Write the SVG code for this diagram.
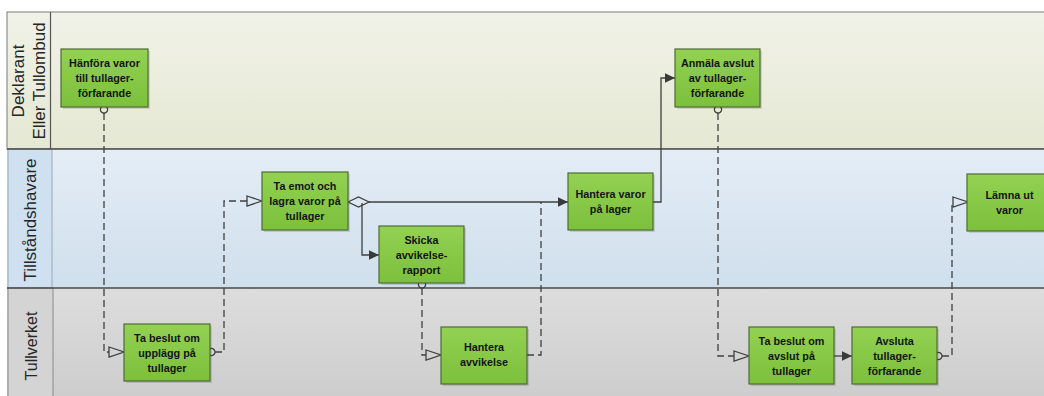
<svg xmlns="http://www.w3.org/2000/svg" width="1044" height="396" viewBox="0 0 1044 396">
<style>
.lane-label{font-family:"Liberation Sans",Arial,sans-serif;font-size:17px;fill:#262626;text-anchor:middle}
.box{fill:url(#gGreen);stroke:#4f6b32;stroke-width:1.2}
.shadow{fill:#000;opacity:.12}
.t{font-family:"Liberation Sans",Arial,sans-serif;font-size:10.8px;font-weight:bold;fill:#141414;text-anchor:middle}
.c{fill:none;stroke:#404040;stroke-width:1.3}
.d{stroke-dasharray:7 4}
.m{stroke:#404040;stroke-width:1.3;stroke-dasharray:none}
</style>
<defs>
<linearGradient id="gTop" x1="0" y1="0" x2="0" y2="1"><stop offset="0" stop-color="#f1f2e8"/><stop offset="1" stop-color="#e5e8d3"/></linearGradient>
<linearGradient id="gMid" x1="0" y1="0" x2="0" y2="1"><stop offset="0" stop-color="#e4edf6"/><stop offset="1" stop-color="#cfdfec"/></linearGradient>
<linearGradient id="gBot" x1="0" y1="0" x2="0" y2="1"><stop offset="0" stop-color="#dddddd"/><stop offset="1" stop-color="#cdcdcd"/></linearGradient>
<linearGradient id="gGreen" x1="0" y1="0" x2="0" y2="1"><stop offset="0" stop-color="#93d152"/><stop offset="1" stop-color="#7cc03c"/></linearGradient>
<marker id="open" markerUnits="userSpaceOnUse" markerWidth="18" markerHeight="14" viewBox="-2 -7 18 14" refX="0" refY="0" orient="auto" overflow="visible"><path class="m" d="M0,-5 L15,0 L0,5 Z" fill="none"/></marker>
<marker id="fill" markerUnits="userSpaceOnUse" markerWidth="12" markerHeight="12" viewBox="0 -6 12 12" refX="10" refY="0" orient="auto" overflow="visible"><path d="M0,-4.8 L10,0 L0,4.8 Z" fill="#3a3a3a"/></marker>
<marker id="circ" markerUnits="userSpaceOnUse" markerWidth="10" markerHeight="10" viewBox="-9 -5 10 10" refX="0" refY="0" orient="auto" overflow="visible"><circle class="m" cx="-3.6" r="3.6" fill="none"/></marker>
<marker id="dia" markerUnits="userSpaceOnUse" markerWidth="24" markerHeight="12" viewBox="-23 -6 24 12" refX="0" refY="0" orient="auto" overflow="visible"><path class="m" d="M-21,0 L-10.5,-5 L0,0 L-10.5,5 Z" fill="none"/></marker>
</defs>
<rect width="1044" height="396" fill="#ffffff"/>
<g id="lanes">
<g id="lane-deklarant">
<rect x="7" y="12" width="1040" height="137" fill="url(#gTop)" stroke="#7a7a7a" stroke-width="1"/>
<line x1="50.5" y1="12" x2="50.5" y2="149" stroke="#555" stroke-width="1.2"/>
<text class="lane-label" transform="translate(24,81) rotate(-90)">Deklarant</text>
<text class="lane-label" transform="translate(45,81) rotate(-90)">Eller Tullombud</text>
</g>
<g id="lane-tillstandshavare">
<rect x="7" y="149" width="1040" height="139" fill="url(#gMid)"/>
<rect x="8" y="149" width="44" height="139" fill="#cfe1f0" stroke="#9aa8b4" stroke-width="1"/>
<line x1="7" y1="149" x2="1044" y2="149" stroke="#4a4a4a" stroke-width="1.3"/>
<text class="lane-label" transform="translate(36,220) rotate(-90)">Tillståndshavare</text>
</g>
<g id="lane-tullverket">
<rect x="7" y="288" width="1040" height="110" fill="url(#gBot)"/>
<rect x="8" y="288" width="45" height="110" fill="#d4d4d4" stroke="#8a8a8a" stroke-width="1"/>
<line x1="7" y1="288" x2="1044" y2="288" stroke="#4a4a4a" stroke-width="1.3"/>
<text class="lane-label" style="font-size:16px" transform="translate(37,346) rotate(-90)">Tullverket</text>
</g>
</g>
<g id="connectors">
<path class="c d" d="M104,113 V352 H109" marker-start="url(#circ)" marker-end="url(#open)"/>
<path class="c d" d="M215,352 H224 V201 H247" marker-start="url(#circ)" marker-end="url(#open)"/>
<path class="c" d="M369,202 H568" marker-start="url(#dia)" marker-end="url(#fill)"/>
<path class="c" d="M362,203 V255 H379" marker-end="url(#fill)"/>
<path class="c d" d="M422,288 V355 H426" marker-start="url(#circ)" marker-end="url(#open)"/>
<path class="c d" d="M527,355 H541 V202"/>
<path class="c" d="M653,202 H661 V78 H675" marker-end="url(#fill)"/>
<path class="c d" d="M718,113 V356 H734" marker-start="url(#circ)" marker-end="url(#open)"/>
<path class="c" d="M834,356 H852" marker-end="url(#fill)"/>
<path class="c d" d="M942,356 H952 V202 H953" marker-start="url(#circ)" marker-end="url(#open)"/>
</g>
<g id="n1"><rect class="shadow" x="63" y="51" width="87" height="58"/><rect class="box" x="61" y="49" width="87" height="58"/>
<text class="t" x="104.5" y="67">Hänföra varor</text><text class="t" x="104.5" y="82">till tullager-</text><text class="t" x="104.5" y="97">förfarande</text></g>
<g id="n2"><rect class="shadow" x="126" y="326" width="86" height="57"/><rect class="box" x="124" y="324" width="86" height="57"/>
<text class="t" x="167" y="341.5">Ta beslut om</text><text class="t" x="167" y="356.5">upplägg på</text><text class="t" x="167" y="371.5">tullager</text></g>
<g id="n3"><rect class="shadow" x="264" y="174" width="86" height="58"/><rect class="box" x="262" y="172" width="86" height="58"/>
<text class="t" x="305" y="190">Ta emot och</text><text class="t" x="305" y="205">lagra varor på</text><text class="t" x="305" y="220">tullager</text></g>
<g id="n4"><rect class="shadow" x="381" y="228" width="85" height="57"/><rect class="box" x="379" y="226" width="85" height="57"/>
<text class="t" x="421.5" y="244">Skicka</text><text class="t" x="421.5" y="259">avvikelse-</text><text class="t" x="421.5" y="274">rapport</text></g>
<g id="n5"><rect class="shadow" x="443" y="329" width="86" height="57"/><rect class="box" x="441" y="327" width="86" height="57"/>
<text class="t" x="484" y="351">Hantera</text><text class="t" x="484" y="366">avvikelse</text></g>
<g id="n6"><rect class="shadow" x="570" y="175" width="85" height="57"/><rect class="box" x="568" y="173" width="85" height="57"/>
<text class="t" x="610.5" y="198">Hantera varor</text><text class="t" x="610.5" y="213">på lager</text></g>
<g id="n7"><rect class="shadow" x="677" y="51" width="85" height="58"/><rect class="box" x="675" y="49" width="85" height="58"/>
<text class="t" x="717.5" y="67">Anmäla avslut</text><text class="t" x="717.5" y="82">av tullager-</text><text class="t" x="717.5" y="97">förfarande</text></g>
<g id="n8"><rect class="shadow" x="751" y="329" width="85" height="57"/><rect class="box" x="749" y="327" width="85" height="57"/>
<text class="t" x="791.5" y="344.5">Ta beslut om</text><text class="t" x="791.5" y="359.5">avslut på</text><text class="t" x="791.5" y="374.5">tullager</text></g>
<g id="n9"><rect class="shadow" x="854" y="329" width="85" height="57"/><rect class="box" x="852" y="327" width="85" height="57"/>
<text class="t" x="894.5" y="344.5">Avsluta</text><text class="t" x="894.5" y="359.5">tullager-</text><text class="t" x="894.5" y="374.5">förfarande</text></g>
<g id="n10"><rect class="shadow" x="969" y="176" width="85" height="57"/><rect class="box" x="967" y="174" width="85" height="57"/>
<text class="t" x="1009.5" y="198.5">Lämna ut</text><text class="t" x="1009.5" y="213.5">varor</text></g>
</svg>
